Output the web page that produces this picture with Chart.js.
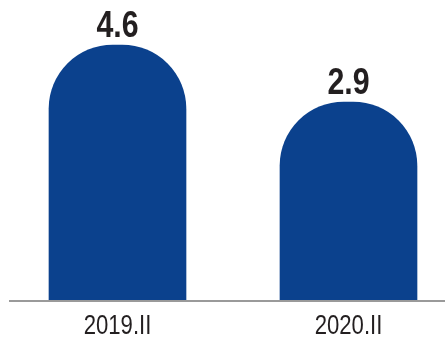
<!DOCTYPE html>
<html>
<head>
<meta charset="utf-8">
<script src="https://cdn.jsdelivr.net/npm/chart.js@4.4.0/dist/chart.umd.min.js"></script>
<style>
  html, body { margin: 0; padding: 0; background: #fff; overflow: hidden; }
  #wrap { width: 464px; height: 341px; }
</style>
</head>
<body>
<div id="wrap"><canvas id="barChart"></canvas></div>
<script>
// data
const periods = ['2019.II', '2020.II'];
const rates = [4.6, 2.9];
const yMin = -3;
const yMax = 5.94;

const barBlue = '#0b418d';
const textColor = '#231f20';
// no narrow font installed, so squeeze Liberation Sans sideways
const squeeze = 0.82;

function narrowText(ctx, txt, x, y, font) {
  ctx.save();
  ctx.font = font;
  ctx.fillStyle = textColor;
  ctx.textAlign = 'center';
  ctx.textBaseline = 'alphabetic';
  ctx.translate(x, y);
  ctx.scale(squeeze, 1);
  ctx.fillText(txt, 0, 0);
  ctx.restore();
}

// value labels above bars + category labels under the axis
const textLayer = {
  id: 'textLayer',
  afterDatasetsDraw(chart) {
    const ctx = chart.ctx;
    const meta = chart.getDatasetMeta(0);
    meta.data.forEach((bar, i) => {
      narrowText(ctx, rates[i].toFixed(1), bar.x, bar.y - 8, 'bold 37px "Liberation Sans", Arial, sans-serif');
    });
    const xs = chart.scales.x;
    periods.forEach((p, i) => {
      narrowText(ctx, p, xs.getPixelForTick(i), chart.chartArea.bottom + 34, '27px "Liberation Sans", Arial, sans-serif');
    });
  }
};

// grey base line under the bars
const baseLine = {
  id: 'baseLine',
  afterDraw(chart) {
    const ctx = chart.ctx;
    const y = chart.chartArea.bottom + 1;
    ctx.save();
    ctx.strokeStyle = '#9a9a9a';
    ctx.lineWidth = 2;
    ctx.beginPath();
    ctx.moveTo(9, y);
    ctx.lineTo(chart.width, y);
    ctx.stroke();
    ctx.restore();
  }
};

const ctx = document.getElementById('barChart').getContext('2d');
const chart = new Chart(ctx, {
  type: 'bar',
  data: {
    labels: periods,
    datasets: [{
      data: rates,
      base: yMin,
      backgroundColor: barBlue,
      borderSkipped: 'bottom',
      borderRadius: { topLeft: 64, topRight: 64, bottomLeft: 0, bottomRight: 0 },
      barThickness: 137
    }]
  },
  options: {
    responsive: true,
    maintainAspectRatio: false,
    animation: false,
    layout: { padding: { left: 2, right: 0, top: 0, bottom: 0 } },
    plugins: {
      legend: { display: false },
      tooltip: { enabled: false }
    },
    scales: {
      y: {
        display: false,
        min: yMin,
        max: yMax
      },
      x: {
        grid: { display: false },
        border: { display: false },
        ticks: { display: false },
        afterFit(scale) { scale.height = 41; }
      }
    }
  },
  plugins: [textLayer, baseLine]
});
</script>
</body>
</html>
